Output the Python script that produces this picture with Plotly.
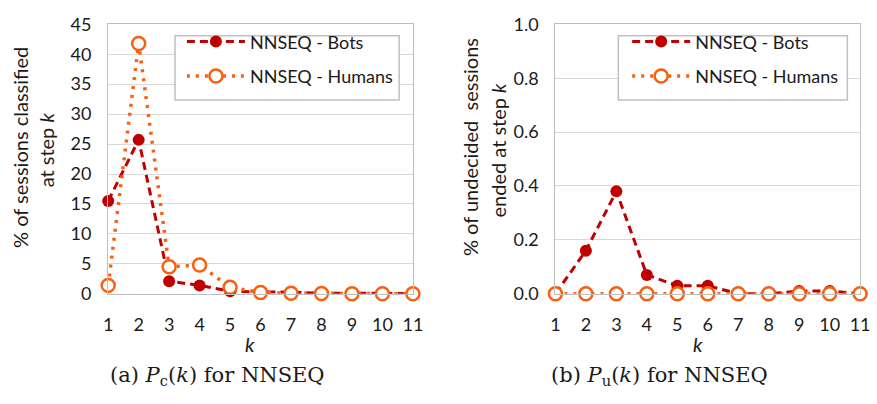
import plotly.graph_objects as go

k = [1, 2, 3, 4, 5, 6, 7, 8, 9, 10, 11]
pc_bots = [15.5, 25.7, 2.1, 1.4, 0.4, 0.35, 0.25, 0.1, 0.05, 0.05, 0.05]
pc_humans = [1.4, 41.8, 4.5, 4.8, 1.1, 0.2, 0.1, 0.05, 0.0, 0.0, 0.0]
pu_bots = [0.0, 0.16, 0.38, 0.07, 0.03, 0.03, 0.0, 0.0, 0.01, 0.01, 0.0]
pu_humans = [0.0, 0.0, 0.0, 0.0, 0.0, 0.0, 0.0, 0.0, 0.0, 0.0, 0.0]

left_yticks = [0, 5, 10, 15, 20, 25, 30, 35, 40, 45]
right_yticks = [0.0, 0.2, 0.4, 0.6, 0.8, 1.0]

BOT = "#C00000"
HUM = "#FA5F0F"
TXT = "#1a1a1a"
FONT = "Lato"
W, H = 877, 404

fig = go.Figure()

def add_pair(xa, ya, bots, hums, legend):
    fig.add_trace(go.Scatter(
        x=k, y=bots, xaxis=xa, yaxis=ya, mode="lines+markers",
        name="NNSEQ - Bots", legend=legend, legendgroup=legend + "b",
        line=dict(color=BOT, width=3, dash="8px,5px"),
        marker=dict(symbol="circle", size=12, color=BOT),
        cliponaxis=False))
    fig.add_trace(go.Scatter(
        x=k, y=hums, xaxis=xa, yaxis=ya, mode="lines+markers",
        name="NNSEQ - Humans", legend=legend, legendgroup=legend + "h",
        line=dict(color=HUM, width=3.5, dash="3px,6px"),
        marker=dict(symbol="circle", size=13, color="white",
                    line=dict(color=HUM, width=2.5)),
        cliponaxis=False))

add_pair("x", "y", pc_bots, pc_humans, "legend")
add_pair("x2", "y2", pu_bots, pu_humans, "legend2")

ydom = [(H - 298) / H, (H - 13) / H]
axis_common = dict(showline=True, mirror=True, linecolor="#BFBFBF", linewidth=1.3,
                   ticks="", tickfont=dict(family=FONT, size=18, color=TXT),
                   zeroline=False)

leg_common = dict(xanchor="left", yanchor="top",
                  bgcolor="rgba(0,0,0,0)", borderwidth=0,
                  font=dict(family=FONT, size=18, color=TXT),
                  itemwidth=58, tracegroupgap=8)

fig.update_layout(
    width=W, height=H, margin=dict(l=0, r=0, t=0, b=0),
    paper_bgcolor="white", plot_bgcolor="white",
    xaxis=dict(domain=[105 / W, 415 / W], range=[1, 11], tickvals=k,
               showgrid=False, ticklabelstandoff=14, anchor="y", **axis_common),
    yaxis=dict(domain=ydom, range=[0, 45], tickvals=left_yticks,
               showgrid=True, gridcolor="#D9D9D9", gridwidth=1.2,
               ticklabelstandoff=12, anchor="x", **axis_common),
    xaxis2=dict(domain=[560 / W, 870 / W], range=[1, 11], tickvals=k,
                showgrid=False, ticklabelstandoff=14, anchor="y2", **axis_common),
    yaxis2=dict(domain=ydom, range=[0, 1.0], tickvals=right_yticks, tickformat=".1f",
                showgrid=True, gridcolor="#D9D9D9", gridwidth=1.2,
                ticklabelstandoff=12, anchor="x2", **axis_common),
    legend=dict(x=180 / W, y=1 - 12 / H, **leg_common),
    legend2=dict(x=633 / W, y=1 - 12 / H, **leg_common),
    showlegend=True,
)

# legend frames
for x0, x1 in [(173, 401), (624, 857)]:
    fig.add_shape(type="rect", xref="paper", yref="paper",
                  x0=x0 / W, x1=x1 / W, y0=1 - 93 / H, y1=1 - 25 / H,
                  line=dict(color="#BFBFBF", width=1.5), fillcolor="white",
                  layer="above")

def ann(text, x, y, size=20, angle=0, family=FONT):
    fig.add_annotation(text=text, x=x / W, y=1 - y / H, xref="paper", yref="paper",
                       showarrow=False, textangle=angle, xanchor="center", yanchor="middle",
                       font=dict(family=family, size=size, color=TXT))

# axis titles
ann("% of sessions classified", 15, 143, angle=-90)
ann("at step <i>k</i>", 42, 146, angle=-90)
ann("% of undecided  sessions", 473, 143, angle=-90)
ann("ended at step <i>k</i>", 502, 146, angle=-90)
ann("<i>k</i>", 249, 351)
ann("<i>k</i>", 705, 351)

# captions
ann("(a) <i>P</i><sub>c</sub>(<i>k</i>) for NNSEQ", 216, 385, size=21, family="DejaVu Serif")
ann("(b) <i>P</i><sub>u</sub>(<i>k</i>) for NNSEQ", 666, 385, size=21, family="DejaVu Serif")

fig.write_html("out.html")
